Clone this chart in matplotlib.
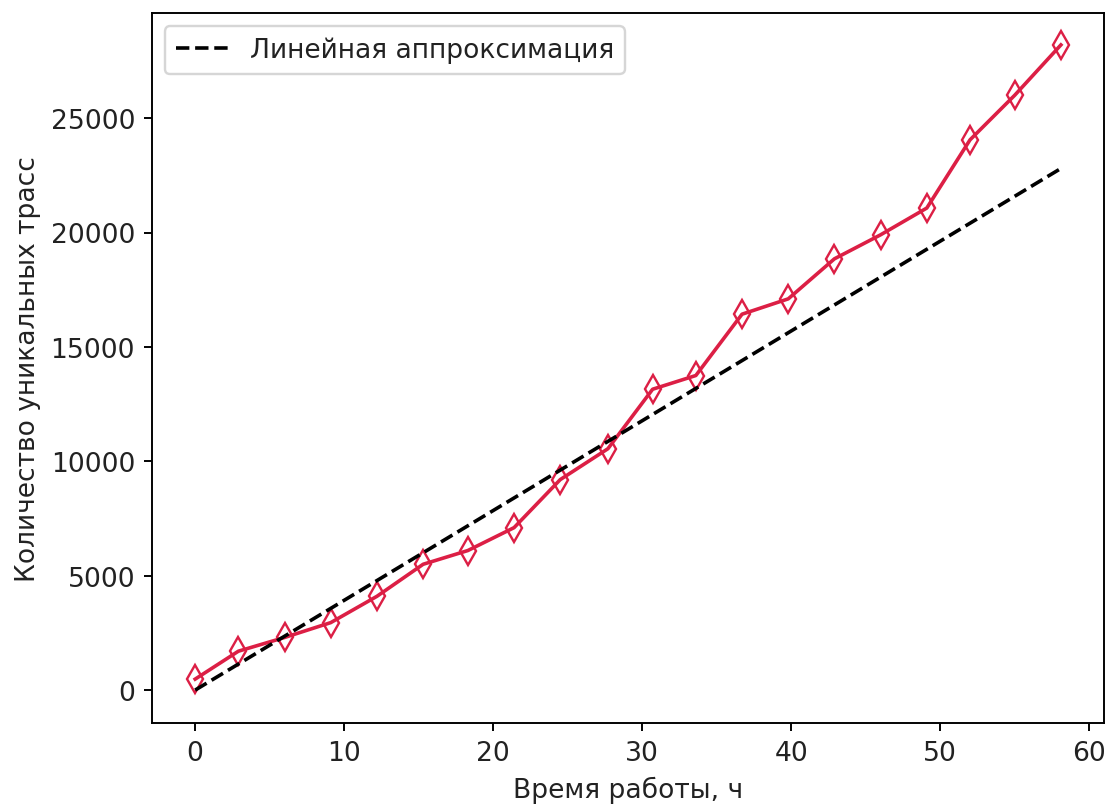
import numpy as np
import matplotlib.pyplot as plt

# Данные
hours = [0.0, 2.9, 6.0, 9.1, 12.2, 15.3, 18.3, 21.4, 24.5, 27.7,
         30.7, 33.6, 36.7, 39.8, 42.9, 46.0, 49.1, 52.0, 55.0, 58.1]
traces = [480, 1700, 2300, 2950, 4100, 5500, 6100, 7100, 9200, 10550,
          13150, 13750, 16430, 17100, 18850, 19900, 21070, 24050, 26000, 28200]

# Линейная аппроксимация (концы прямой)
approx_x = [0.0, 58.1]
approx_y = [0, 22800]

plt.rcParams['font.size'] = 11
plt.rcParams['text.color'] = '#222222'
plt.rcParams['xtick.labelcolor'] = '#222222'
plt.rcParams['ytick.labelcolor'] = '#222222'
plt.rcParams['axes.labelcolor'] = '#222222'

fig = plt.figure(figsize=(6.4, 4.65), dpi=173.3)
ax = fig.add_axes([0.137, 0.1017, 0.8585, 0.881])

ax.plot(hours, traces, '-', color='#dc1f45', marker='d', markersize=8,
        markerfacecolor='none', markeredgecolor='#dc1f45', linewidth=1.5)
ax.plot(approx_x, approx_y, 'k--', linewidth=1.5, label='Линейная аппроксимация')

ax.set_xlabel('Время работы, ч')
ax.set_ylabel('Количество уникальных трасс')
ax.set_xlim(-2.9, 61.0)
ax.set_ylim(-1440, 29590)
ax.legend(loc='upper left')

fig.savefig('out.png', dpi=173.3)
